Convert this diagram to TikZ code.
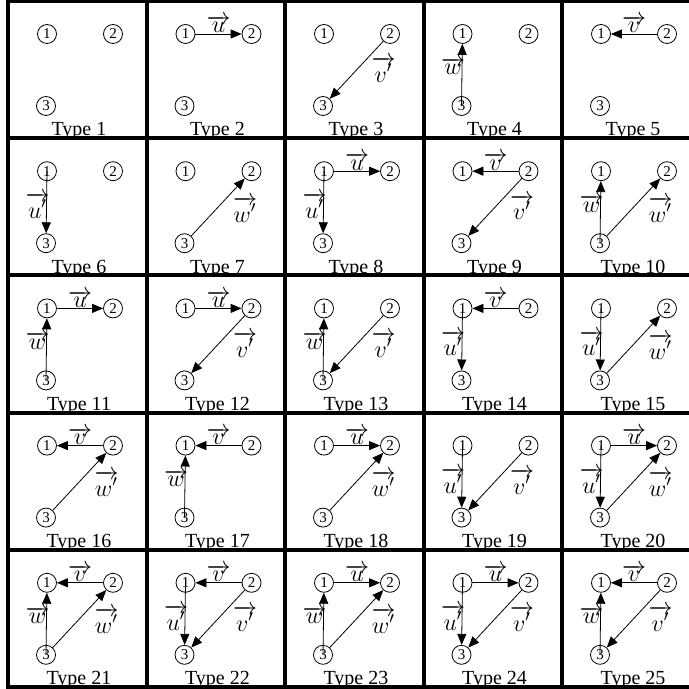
\documentclass[tikz,border=0pt]{standalone}
\usepackage{fontspec}
\setmainfont{Liberation Serif}
\usetikzlibrary{arrows.meta}

\tikzset{
  vtx/.style={circle, draw, line width=0.4pt, inner sep=0pt, minimum size=9.5pt,
              font=\fontsize{7.5}{8}\selectfont},
  typelbl/.style={anchor=base, inner sep=0pt, font=\fontsize{10}{12}\selectfont},
  lbl/.style={inner sep=0.3pt, font=\fontsize{11.5}{13}\selectfont},
  edge/.style={line width=0.4pt, -{Triangle[length=5.5pt, width=4.5pt]}},
  grid/.style={line width=2pt},
}

% edges of the current cell \tcur
\newcommand{\eU}{\draw[edge] (a\tcur) -- node[lbl, above] {$\overrightarrow{u}$} (b\tcur);}   % 1 -> 2
\newcommand{\eV}{\draw[edge] (b\tcur) -- node[lbl, above] {$\overrightarrow{v}$} (a\tcur);}   % 2 -> 1
\newcommand{\eVp}{\draw[edge] (b\tcur) -- node[lbl, midway, xshift=13.5pt] {$\overrightarrow{v'}$} (c\tcur);} % 2 -> 3
\newcommand{\eWp}{\draw[edge] (c\tcur) -- node[lbl, midway, xshift=13.5pt, yshift=-1pt] {$\overrightarrow{w'}$} (b\tcur);} % 3 -> 2
\newcommand{\eW}{\draw[edge] (c\tcur.center) -- node[lbl, left=-2pt, pos=0.64] {$\overrightarrow{w}$} (a\tcur);} % 3 -> 1
\newcommand{\eUp}{\draw[edge] (a\tcur.center) -- node[lbl, left=-2pt, pos=0.56] {$\overrightarrow{u'}$} (c\tcur);} % 1 -> 3

% #1 type, #2 column, #3 row, #4 edges
\newcommand{\typecell}[4]{%
  \begin{scope}[shift={(8+138.5*#2,1+137.2*#3)}]
    \def\tcur{#1}
    \clip (0,0) rectangle (138.5,137.2);
    \node[vtx] (a#1) at (39,33) {1};
    \node[vtx] (b#1) at (105,33) {2};
    \node[vtx] (c#1) at (38,105) {3};
    \node[typelbl] (t#1) at (71,135) {Type #1};
    #4
  \end{scope}}

\begin{document}
\begin{tikzpicture}[x=0.5pt, y=-0.5pt]
  \useasboundingbox (0,0) rectangle (689,689);

  % Row 1
  \typecell{1}{0}{0}{}
  \typecell{2}{1}{0}{\eU}
  \typecell{3}{2}{0}{\eVp}
  \typecell{4}{3}{0}{\eW}
  \typecell{5}{4}{0}{\eV}

  % Row 2
  \typecell{6}{0}{1}{\eUp}
  \typecell{7}{1}{1}{\eWp}
  \typecell{8}{2}{1}{\eU\eUp}
  \typecell{9}{3}{1}{\eV\eVp}
  \typecell{10}{4}{1}{\eW\eWp}

  % Row 3
  \typecell{11}{0}{2}{\eU\eW}
  \typecell{12}{1}{2}{\eU\eVp}
  \typecell{13}{2}{2}{\eW\eVp}
  \typecell{14}{3}{2}{\eV\eUp}
  \typecell{15}{4}{2}{\eUp\eWp}

  % Row 4
  \typecell{16}{0}{3}{\eV\eWp}
  \typecell{17}{1}{3}{\eV\eW}
  \typecell{18}{2}{3}{\eU\eWp}
  \typecell{19}{3}{3}{\eUp\eVp}
  \typecell{20}{4}{3}{\eU\eUp\eWp}

  % Row 5
  \typecell{21}{0}{4}{\eV\eW\eWp}
  \typecell{22}{1}{4}{\eV\eUp\eVp}
  \typecell{23}{2}{4}{\eU\eW\eWp}
  \typecell{24}{3}{4}{\eU\eUp\eVp}
  \typecell{25}{4}{4}{\eV\eW\eVp}

  % grid
  \draw[grid] (8,1) rectangle (700.5,687);
  \foreach \k in {1,...,4} {
    \draw[grid] (8+138.5*\k,1) -- (8+138.5*\k,687);
    \draw[grid] (8,1+137.2*\k) -- (700.5,1+137.2*\k);
  }
\end{tikzpicture}
\end{document}
